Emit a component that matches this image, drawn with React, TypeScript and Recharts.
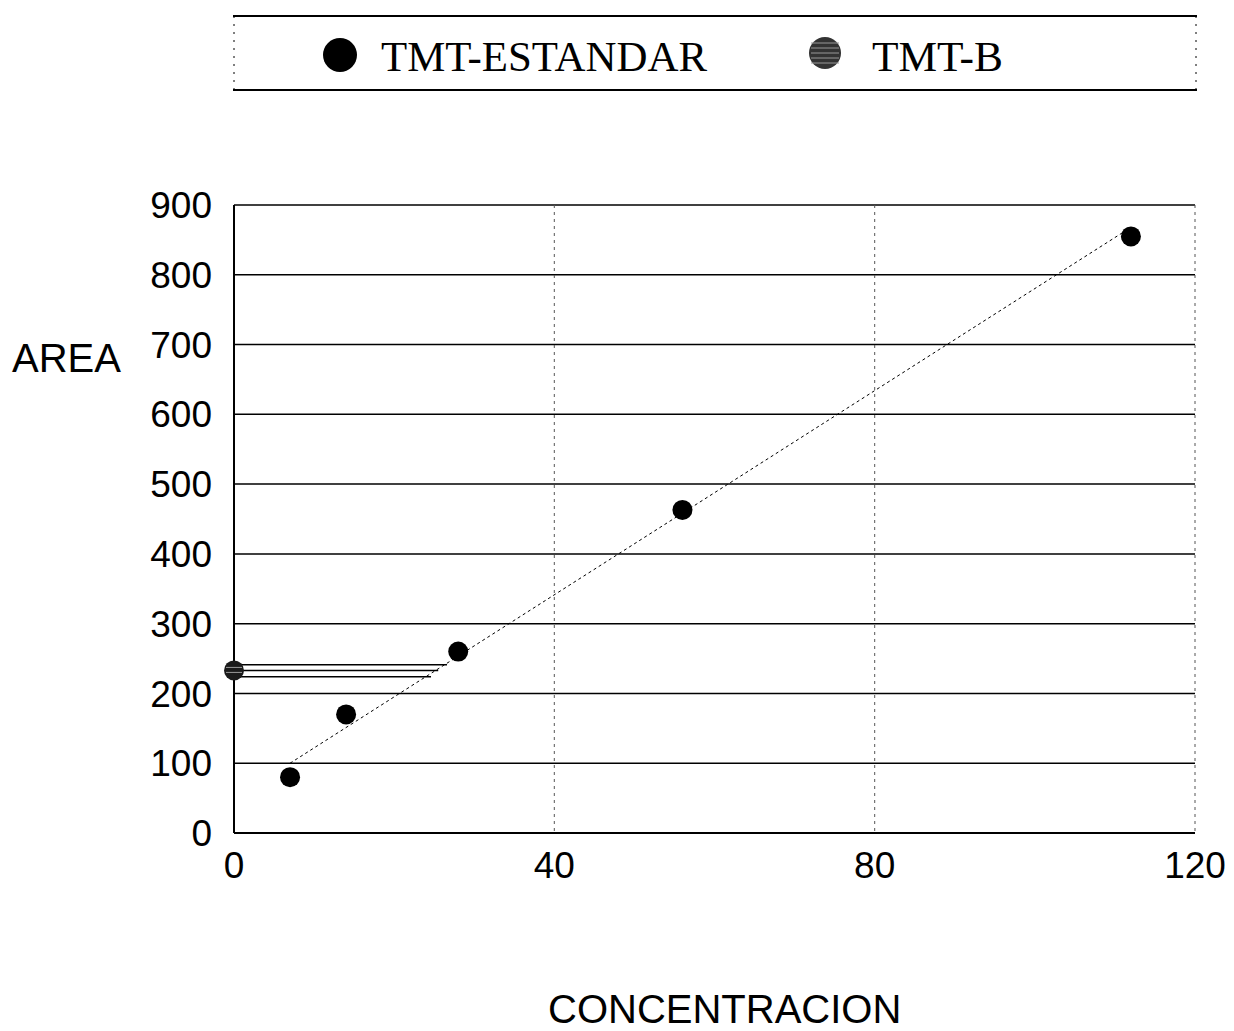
import React from 'react';
import { ScatterChart, Scatter, XAxis, YAxis, CartesianGrid } from 'recharts';

const xTicks = [0, 40, 80, 120];
const yTicks = [0, 100, 200, 300, 400, 500, 600, 700, 800, 900];

const concentracion = [7, 14, 28, 56, 112];
const areaEstandar = [80, 170, 260, 463, 855];

const trendX = [7, 112];
const trendY = [100, 868];

const tmtBX = [0];
const tmtBY = [233];

// horizontal reading lines from TMT-B to trend line
const readY = [241, 233, 224];
const readXEnd = [26.6, 25.5, 24.6];

const estandarData = concentracion.map((x, i) => ({ x, y: areaEstandar[i] }));
const trendData = trendX.map((x, i) => ({ x, y: trendY[i] }));
const tmtBData = tmtBX.map((x, i) => ({ x, y: tmtBY[i] }));
const readLines = readY.map((y, i) => [
  { x: 0, y },
  { x: readXEnd[i], y },
]);

const Dot = (props: any) => {
  const { cx, cy } = props;
  if (cx == null || cy == null) return <g />;
  return <circle cx={cx} cy={cy} r={10} fill="#000" />;
};

const HatchDot = (props: any) => {
  const { cx, cy } = props;
  if (cx == null || cy == null) return <g />;
  return (
    <g>
      <circle cx={cx} cy={cy} r={10} fill="#1a1a1a" />
      <line x1={cx - 8} x2={cx + 8} y1={cy - 3} y2={cy - 3} stroke="#999" strokeWidth={1} />
      <line x1={cx - 8} x2={cx + 8} y1={cy + 2} y2={cy + 2} stroke="#999" strokeWidth={1} />
    </g>
  );
};

const NoShape = () => <g />;

const LegendBox = () => (
  <svg width={966} height={80} style={{ display: 'block' }}>
    <line x1={0} x2={964} y1={2} y2={2} stroke="#000" strokeWidth={2} />
    <line x1={0} x2={964} y1={76} y2={76} stroke="#000" strokeWidth={2} />
    <line x1={1} x2={1} y1={2} y2={76} stroke="#000" strokeWidth={1} strokeDasharray="2 6" />
    <line x1={963} x2={963} y1={2} y2={76} stroke="#000" strokeWidth={1} strokeDasharray="2 6" />
    <circle cx={107} cy={41} r={17} fill="#000" />
    <text x={148} y={57} fontFamily="'Liberation Serif', 'Times New Roman', serif" fontSize={42} fill="#000" textLength={326} lengthAdjust="spacingAndGlyphs">
      TMT-ESTANDAR
    </text>
    <circle cx={592} cy={39} r={16} fill="#333" />
    {[-10, -5, 0, 5, 10].map((d) => (
      <line key={d} x1={578} x2={606} y1={39 + d} y2={39 + d} stroke="#999" strokeWidth={1} />
    ))}
    <text x={639} y={57} fontFamily="'Liberation Serif', 'Times New Roman', serif" fontSize={42} fill="#000" textLength={131} lengthAdjust="spacingAndGlyphs">
      TMT-B
    </text>
  </svg>
);

const tickStyle = { fill: '#000', fontSize: 37, fontFamily: "'Liberation Sans', Arial, sans-serif" };

export default function App() {
  return (
    <div style={{ position: 'absolute', left: 0, top: 0, width: 1234, height: 1031, background: '#fff' }}>
      <ScatterChart
        width={1234}
        height={1031}
        margin={{ top: 205, right: 39, bottom: 138, left: 0 }}
      >
        <CartesianGrid horizontal={true} vertical={false} stroke="#000" strokeWidth={1.5} />
        <CartesianGrid horizontal={false} vertical={true} stroke="#555" strokeWidth={1} strokeDasharray="3 4" verticalPoints={[554.3, 874.7, 1195]} />
        <XAxis
          type="number"
          dataKey="x"
          domain={[0, 120]}
          ticks={xTicks}
          height={60}
          tickSize={0}
          tickMargin={19}
          axisLine={{ stroke: '#000', strokeWidth: 2 }}
          tick={tickStyle}
        />
        <YAxis
          type="number"
          dataKey="y"
          domain={[0, 900]}
          ticks={yTicks}
          width={234}
          tickSize={0}
          tickMargin={22}
          axisLine={{ stroke: '#000', strokeWidth: 2 }}
          tick={tickStyle}
        />
        <Scatter
          data={trendData}
          fill="none"
          line={{ stroke: '#000', strokeWidth: 1, strokeDasharray: '3 3' }}
          shape={NoShape}
          isAnimationActive={false}
          legendType="none"
        />
        {readLines.map((d, i) => (
          <Scatter
            key={i}
            data={d}
            fill="none"
            line={{ stroke: '#000', strokeWidth: 1.5 }}
            shape={NoShape}
            isAnimationActive={false}
            legendType="none"
          />
        ))}
        <Scatter name="TMT-ESTANDAR" data={estandarData} fill="#000" shape={Dot} isAnimationActive={false} />
        <Scatter name="TMT-B" data={tmtBData} fill="#333" shape={HatchDot} isAnimationActive={false} />
      </ScatterChart>
      <div style={{ position: 'absolute', left: 233, top: 14 }}>
        <LegendBox />
      </div>
      <div
        style={{
          position: 'absolute',
          left: 12,
          top: 336,
          fontFamily: "'Liberation Sans', Arial, sans-serif",
          fontSize: 40,
          lineHeight: '44px',
          color: '#000',
        }}
      >
        AREA
      </div>
      <div
        style={{
          position: 'absolute',
          left: 548,
          top: 987,
          fontFamily: "'Liberation Sans', Arial, sans-serif",
          fontSize: 40,
          lineHeight: '44px',
          color: '#000',
        }}
      >
        CONCENTRACION
      </div>
    </div>
  );
}
